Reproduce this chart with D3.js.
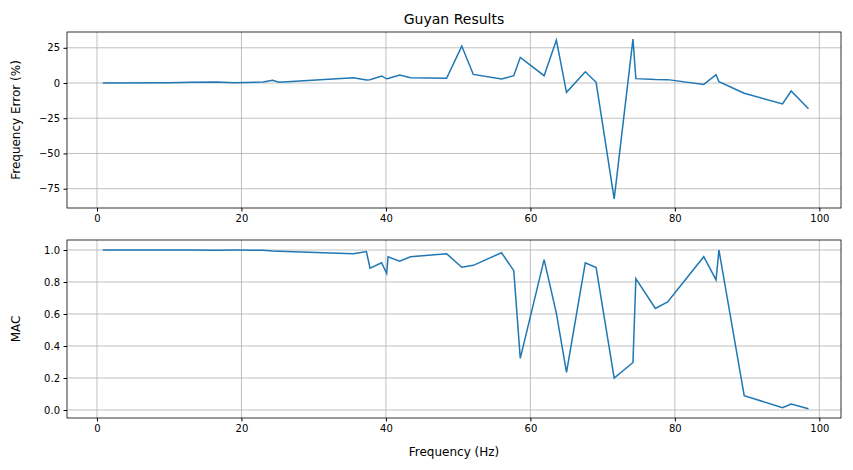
<!DOCTYPE html><html><head><meta charset="utf-8"><script src="https://cdn.jsdelivr.net/npm/d3@7"></script>
<style>body{margin:0;background:#fff}text{font-family:"DejaVu Sans",sans-serif}</style></head><body><svg id="c" width="853" height="470"></svg><script>
const freq=[0.8,10,13,16.5,19,23,24.3,25.2,35.5,37.3,37.8,39.4,40.1,40.3,41.9,43.4,48.4,50.5,52.1,56.0,57.7,58.6,61.9,63.6,65.0,67.6,69.1,71.6,74.2,74.6,77.3,79.0,84.0,85.7,86.1,89.6,94.9,96.1,98.5];
const freqErr=[0,0.2,0.5,0.8,0.1,0.8,2.0,0.6,3.8,2.1,2.3,5.0,3.0,3.2,5.7,3.8,3.3,26.2,6.1,2.8,5.2,18.2,5.2,30.5,-6.6,8.0,0.5,-82.3,31.2,3.1,2.5,2.4,-1.0,5.9,0.9,-7.3,-14.9,-5.7,-18.2];
const mac=[1.0,1.0,1.0,0.999,1.0,0.998,0.993,0.992,0.977,0.99,0.886,0.92,0.854,0.958,0.93,0.958,0.977,0.892,0.904,0.983,0.871,0.323,0.94,0.604,0.235,0.92,0.89,0.2,0.297,0.821,0.635,0.675,0.958,0.813,1.0,0.09,0.014,0.037,0.008];
const xTicks=[0,20,40,60,80,100],errTicks=[25,0,-25,-50,-75],macTicks=[0,0.2,0.4,0.6,0.8,1.0];
const svg=d3.select("#c");const L=67,R=841;
const x=d3.scaleLinear().domain([-4.15,103.0]).range([L,R]);
function panel(top,bot,dom,ticks,vals,fmt,ylab,xlab){
 const y=d3.scaleLinear().domain(dom).range([bot,top]);
 const g=svg.append("g");
 g.append("g").attr("transform",`translate(0,${bot})`).call(d3.axisBottom(x).tickValues(xTicks).tickSize(3.5).tickPadding(3.5).tickFormat(d3.format("d")));
 g.append("g").attr("transform",`translate(${L},0)`).call(d3.axisLeft(y).tickValues(ticks).tickSize(3.5).tickPadding(3.5).tickFormat(fmt));
 g.selectAll(".tick text").attr("font-size",10).attr("fill","#000");
 g.selectAll(".domain").remove();
 g.selectAll(".gx").data(xTicks).enter().append("line").attr("x1",d=>x(d)).attr("x2",d=>x(d)).attr("y1",top).attr("y2",bot).attr("stroke","#b0b0b0").attr("stroke-width",0.8);
 g.selectAll(".gy").data(ticks).enter().append("line").attr("x1",L).attr("x2",R).attr("y1",d=>y(d)).attr("y2",d=>y(d)).attr("stroke","#b0b0b0").attr("stroke-width",0.8);
 g.append("path").datum(vals).attr("fill","none").attr("stroke","#1f77b4").attr("stroke-width",1.5).attr("d",d3.line().x((d,i)=>x(freq[i])).y(d=>y(d)));
 g.append("rect").attr("x",L).attr("y",top).attr("width",R-L).attr("height",bot-top).attr("fill","none").attr("stroke","#000").attr("stroke-width",0.8);
 g.append("text").attr("transform",`translate(${L-47},${(top+bot)/2}) rotate(-90)`).attr("text-anchor","middle").attr("font-size",12).text(ylab);
 if(xlab)g.append("text").attr("x",(L+R)/2).attr("y",bot+38).attr("text-anchor","middle").attr("font-size",12).text(xlab);
}
panel(32,208,[-88.7,36.2],errTicks,freqErr,d3.format("d"),"Frequency Error (%)");
panel(240,418,[-0.05,1.0625],macTicks,mac,d3.format(".1f"),"MAC","Frequency (Hz)");
svg.append("text").attr("x",(L+R)/2).attr("y",24).attr("text-anchor","middle").attr("font-size",14).text("Guyan Results");
</script></body></html>
